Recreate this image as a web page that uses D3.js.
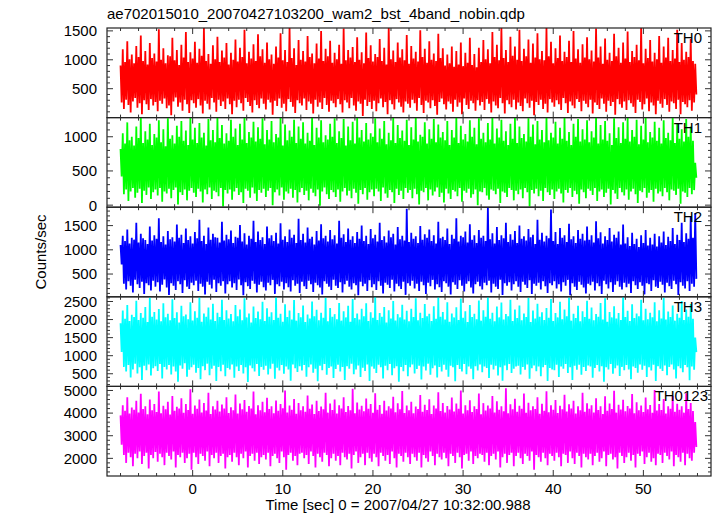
<!DOCTYPE html>
<html><head><meta charset="utf-8">
<script src="https://cdn.jsdelivr.net/npm/d3@7/dist/d3.min.js"></script>
<style>
html,body{margin:0;padding:0;background:#fff;}
svg{display:block;}
text{font-family:"Liberation Sans",Arial,Helvetica,sans-serif;fill:#000;}
</style></head>
<body>
<script>
// ---------- data ----------
const titleText = "ae702015010_20070427103200_wam2_bst_4band_nobin.qdp";
const xLabelText = "Time [sec] 0 = 2007/04/27 10:32:00.988";
const yLabelText = "Counts/sec";
const panelNames = ["TH0", "TH1", "TH2", "TH3", "TH0123"];
const tStart = -8;      // sec, first bin
const binSize = 0.25;   // sec (per-bin max / min of the light curve)
const xDomain = [-9.5, 57.5];
const xMajorTicks = [0, 10, 20, 30, 40, 50];
const yDomains = [[0, 1550], [-30, 1280], [30, 1880], [150, 2630], [1220, 5180]];
const yTickLabels = [[500, 1000, 1500], [0, 500, 1000], [500, 1000, 1500], [500, 1000, 1500, 2000, 2500], [2000, 3000, 4000, 5000]];
const yMinorSteps = [100, 100, 100, 100, 200];

const th0Max = [
900,1180,960,1320,1010,1090,940,1240,1050,1420,980,1150,920,1290,1030,1110,
970,1530,1000,1200,940,1080,1060,1380,990,1170,910,1260,1040,1480,960,1130,
1020,1310,950,1190,1070,1550,980,1100,930,1250,1010,1400,960,1160,1040,1290,
920,1120,1000,1350,970,1210,1050,1520,940,1140,1020,1270,980,1440,1060,1180,
950,1300,1010,1090,930,1230,1040,1460,990,1170,960,1550,1030,1200,910,1340,
1000,1150,970,1410,1050,1110,940,1280,1020,1500,980,1190,1060,1330,950,1120,
1010,1260,930,1540,990,1170,1040,1220,960,1390,1000,1130,940,1470,1030,1250,
970,1100,1050,1360,980,1210,920,1550,1010,1160,960,1300,1040,1180,990,1430,
930,1240,1020,1140,970,1510,1050,1190,950,1320,1000,1110,980,1450,1030,1200,
900,1090,940,1230,880,1150,920,1300,890,1120,950,1380,910,1100,870,1210,
960,1340,1010,1180,940,1480,1050,1260,990,1550,1030,1170,960,1400,1070,1230,
1000,1520,980,1190,1060,1350,950,1280,1040,1460,1010,1150,990,1550,1060,1310,
940,1200,1030,1420,980,1140,1050,1330,960,1500,1020,1180,950,1270,1040,1390,
1010,1160,970,1540,1040,1230,930,1370,1000,1120,980,1450,1060,1210,950,1300,
1020,1490,960,1150,1050,1260,990,1550,940,1190,1030,1340,970,1120,1010,1410,
950,1230,1040,1380,980,1170,1020,1520,960,1290,1000,1140,1050,1360,980,930];
const th0Min = [
260,150,310,220,90,280,340,170,250,60,300,230,130,320,210,270,
110,290,240,330,160,210,40,280,350,190,260,120,310,230,80,300,
250,170,320,210,70,290,240,140,340,260,100,310,200,280,150,330,
230,60,290,180,310,250,120,340,270,200,90,300,220,160,330,240,
140,310,260,50,290,200,330,170,240,110,320,270,190,80,300,250,
210,330,130,280,240,70,310,190,260,150,340,220,100,290,250,180,
320,230,90,300,260,160,340,210,120,280,240,30,310,200,270,150,
290,110,250,330,180,270,60,300,230,140,320,260,190,90,280,240,
170,310,250,120,340,220,80,290,260,160,300,200,50,270,330,230,
140,280,240,100,310,190,260,60,330,220,150,290,250,120,300,210,
270,130,320,240,90,280,210,160,340,250,70,300,230,180,310,140,
260,200,110,330,250,170,290,40,270,220,310,150,240,90,320,260,
190,300,230,130,340,250,80,280,210,160,320,270,110,290,240,180,
310,70,260,220,150,330,240,100,290,200,270,50,320,230,170,280,
130,300,250,190,80,310,270,140,230,330,110,260,210,60,290,240,
170,320,220,100,280,250,150,310,60,270,230,180,300,120,260,400];

const th1Max = [
820,1050,900,1210,950,1000,870,1150,980,1280,910,1080,960,1190,880,1040,
990,1240,920,1110,860,1270,970,1020,900,1160,1000,1230,940,1090,880,1280,
960,1130,910,1200,990,1060,870,1260,950,1100,920,1280,980,1170,900,1050,
940,1250,1000,1120,880,1190,960,1280,910,1070,990,1220,930,1140,970,1270,
890,1100,960,1230,920,1040,990,1280,870,1180,950,1090,1000,1250,910,1150,
970,1210,900,1060,940,1280,880,1130,990,1240,920,1020,960,1190,1000,1270,
910,1080,980,1260,870,1150,950,1220,900,1280,990,1100,930,1200,960,1050,
1000,1270,920,1120,970,1230,890,1060,950,1280,910,1170,980,1090,940,1250,
880,1140,960,1280,930,1030,1000,1210,900,1110,970,1260,920,1180,990,1070,
950,1230,880,1100,990,1280,910,1160,960,1040,930,1240,1000,1130,890,1270,
970,1060,920,1200,960,1280,900,1120,990,1250,940,1080,880,1190,970,1280,
910,1150,980,1040,930,1270,1000,1180,890,1230,960,1100,920,1280,950,1060,
990,1220,900,1130,970,1280,940,1070,880,1190,1000,1260,930,1110,960,1240,
920,1080,990,1280,900,1170,960,1230,940,1050,880,1270,980,1140,910,1210,
970,1280,930,1100,1000,1250,890,1160,960,1280,920,1070,990,1220,940,1130,
900,1240,980,1060,950,1280,910,1190,970,1110,930,1260,1000,1150,940,620];
const th1Min = [
420,160,230,60,200,250,110,180,240,30,210,150,260,90,190,230,
140,250,50,200,170,240,100,220,260,10,190,150,230,70,210,250,
180,120,240,200,40,230,160,260,90,210,190,130,250,-20,220,170,
230,80,200,250,150,190,30,240,210,110,260,170,60,220,180,240,
120,210,250,0,190,230,140,260,80,200,170,240,110,220,40,190,
250,150,210,70,240,180,130,230,-10,200,260,160,90,220,190,120,
230,50,200,250,140,210,100,240,180,20,220,160,250,80,190,230,
130,240,200,60,260,170,110,220,190,30,240,150,210,90,250,180,
220,100,240,160,10,210,190,250,70,230,140,200,260,120,180,40,
240,170,90,220,200,130,250,50,210,180,240,110,160,230,0,200,
190,250,140,80,230,210,160,240,30,200,180,120,250,220,70,210,
160,230,100,250,190,-20,220,170,240,130,210,60,250,190,150,230,
90,200,240,170,40,220,180,250,120,210,160,20,230,190,100,240,
210,150,250,60,200,230,120,180,240,10,220,170,90,250,190,140,
230,80,200,240,160,30,210,190,250,110,180,220,50,240,170,200,
130,250,190,70,230,210,150,240,20,200,180,120,250,160,220,400];

const th2Max = [
1100,1290,1180,1420,1130,1250,1210,1560,1150,1330,1240,1200,1120,1480,1190,1300,
1230,1650,1160,1280,1110,1390,1220,1260,1170,1520,1250,1310,1140,1440,1200,1280,
1130,1370,1240,1620,1180,1290,1120,1460,1210,1330,1260,1250,1150,1580,1190,1310,
1220,1400,1140,1270,1250,1510,1170,1340,1110,1290,1230,1600,1160,1380,1200,1260,
1120,1480,1240,1300,1180,1350,1130,1550,1210,1280,1160,1420,1250,1310,1140,1640,
1200,1330,1150,1460,1230,1270,1110,1390,1190,1530,1240,1290,1170,1410,1220,1300,
1130,1600,1250,1320,1160,1440,1210,1280,1140,1370,1230,1500,1180,1290,1120,1430,
1240,1310,1170,1560,1200,1280,1150,1400,1260,1330,1110,1470,1220,1290,1190,1850,
1160,1350,1230,1280,1140,1490,1210,1320,1250,1420,1180,1300,1130,1580,1240,1270,
1200,1440,1120,1310,1230,1650,1170,1290,1260,1380,1150,1530,1210,1300,1140,1410,
1250,1290,1180,1880,1220,1340,1130,1470,1200,1300,1240,1560,1160,1320,1210,1390,
1140,1500,1230,1280,1190,1430,1260,1310,1120,1620,1210,1350,1170,1290,1240,1830,
1180,1370,1120,1450,1250,1300,1160,1540,1220,1280,1140,1410,1230,1330,1190,1480,
1210,1300,1150,1590,1240,1360,1130,1280,1200,1450,1170,1310,1250,1380,1110,1520,
1130,1260,1080,1350,1120,1230,1060,1300,1140,1410,1090,1250,1110,1330,1070,1280,
1150,1380,1100,1270,1180,1450,1120,1310,1200,1560,1160,1340,1230,1700,1250,1760];
const th2Min = [
700,300,180,350,260,120,380,290,210,340,90,310,270,160,360,240,
330,140,280,390,220,70,310,260,170,350,290,110,370,240,190,320,
270,360,150,300,240,80,340,280,200,380,130,310,260,350,100,290,
350,220,310,170,390,270,60,330,250,190,360,300,120,280,340,230,
160,320,270,380,90,290,250,340,180,310,230,140,370,260,300,110,
340,250,190,360,290,130,320,270,220,80,350,300,240,170,380,260,
210,330,120,290,360,240,180,310,270,60,340,250,300,150,370,230,
290,170,350,260,100,320,280,210,380,140,300,250,190,340,70,310,
260,360,200,300,150,340,270,90,320,250,380,180,290,230,130,350,
310,240,80,330,280,190,370,260,140,300,350,220,100,290,340,250,
180,320,270,360,120,300,240,190,380,70,310,260,330,160,290,350,
240,130,340,280,210,370,90,300,260,320,180,350,250,110,310,270,
350,200,290,140,330,260,380,60,310,240,170,340,280,220,100,300,
270,340,160,310,250,90,360,290,200,330,130,280,350,240,180,320,
230,300,110,350,270,190,330,260,80,310,290,150,370,240,210,340,
280,120,320,250,190,360,290,70,330,260,200,350,150,300,240,400];

const th3Max = [
1900,2250,2020,2400,1960,2130,2070,2520,1990,2180,2050,2350,1930,2600,2080,2210,
2000,2290,1950,2450,2060,2160,1980,2560,2040,2200,1920,2380,2090,2140,2010,2480,
1970,2230,2050,2610,1940,2170,2080,2330,2000,2440,1960,2190,2070,2550,1990,2260,
2030,2150,1950,2400,2090,2280,1980,2590,2060,2170,1920,2360,2040,2220,2010,2490,
1960,2310,2080,2200,1990,2620,2050,2160,1940,2420,2070,2250,2000,2540,1970,2180,
2060,2390,1930,2140,2030,2500,2090,2270,1980,2190,2050,2600,1950,2320,2080,2150,
2010,2460,1970,2230,2060,2380,1940,2570,2040,2170,2000,2300,2090,2450,1960,2200,
2050,2630,1990,2180,2080,2350,1920,2260,2030,2510,1970,2150,2060,2410,2000,2240,
1950,2300,2070,2590,1980,2190,2040,2430,2090,2160,1960,2370,2020,2620,2080,2210,
2000,2480,1940,2170,2060,2340,1990,2580,2050,2230,1930,2400,2070,2160,2010,2530,
1970,2260,2080,2620,2020,2190,1950,2360,2060,2470,2000,2150,2090,2550,1960,2280,
2040,2390,1980,2170,2070,2600,1930,2250,2030,2440,2080,2200,1990,2320,2050,2570,
1960,2180,2060,2490,2010,2280,2090,2610,1970,2160,2040,2380,1950,2230,2070,2520,
2020,2330,1980,2150,2080,2460,2000,2590,1940,2210,2060,2370,2030,2180,1990,2620,
2070,2240,1960,2420,2040,2170,2090,2550,1980,2300,2010,2190,2060,2480,1950,2260,
2030,2600,2000,2220,2070,2390,1970,2160,2050,2510,1990,2280,2080,2430,2020,1500];
const th3Min = [
1100,690,560,740,400,620,780,510,680,330,720,600,760,450,650,710,
580,770,370,690,620,740,480,700,560,280,730,640,790,420,610,680,
750,530,660,350,710,600,780,460,640,720,300,690,570,750,430,660,
620,760,390,700,580,740,510,680,270,730,650,560,770,440,690,610,
720,480,640,780,360,670,590,740,500,700,620,310,760,650,550,710,
590,740,420,680,760,530,640,290,720,600,770,470,660,700,380,630,
750,560,690,330,710,640,780,490,620,730,410,670,580,760,300,700,
640,520,750,680,370,720,600,770,460,650,710,280,690,570,740,430,
680,760,510,630,720,340,700,590,780,470,650,730,400,690,560,750,
610,420,720,680,290,740,630,560,770,490,700,640,350,710,590,760,
540,700,660,380,750,620,720,450,680,310,730,600,770,520,640,700,
720,480,690,610,760,360,650,730,570,700,430,680,740,300,660,620,
600,750,410,700,640,770,520,680,330,720,610,750,470,690,580,730,
700,390,660,740,560,710,280,680,620,770,500,650,730,440,690,600,
740,620,350,700,660,530,760,610,720,410,680,590,750,300,710,640,
580,730,460,690,760,620,370,710,650,540,740,680,320,700,610,1100];

const th0123Max = [
3900,4350,4100,4700,3980,4250,4150,4550,4020,4850,4180,4300,3950,4600,4120,4400,
4050,4950,3990,4320,4170,4500,3940,4750,4100,4280,4200,4650,4010,4400,4140,5050,
3970,4330,4190,4600,4030,4450,4110,4900,3960,4300,4160,4550,4070,4380,4200,4700,
4000,4260,4130,4820,3980,4420,4170,4580,4060,4310,4200,4950,3950,4350,4120,4500,
4040,4680,4180,4300,3990,4560,4100,4400,4210,5000,4030,4330,4150,4620,3970,4450,
4120,4300,4060,4780,4190,4380,3960,4540,4090,4290,4170,4900,4020,4420,4140,4600,
3980,4350,4200,4700,4050,4310,4130,5080,3990,4470,4160,4320,4080,4640,4190,4400,
4010,4880,4150,4360,3970,4550,4110,4300,4200,4720,4040,4430,4170,4980,4000,4330,
4130,4500,3990,4290,4180,4800,4060,4370,4140,4610,3960,4330,4200,4920,4090,4450,
4020,4310,4160,4690,4070,4420,4190,5000,3980,4350,4120,4570,4050,4300,4180,4860,
3950,4440,4110,4330,4200,4760,4030,4520,4150,4300,4080,5100,3990,4390,4170,4630,
4060,4320,4190,4870,4010,4460,4130,4300,4180,4700,3970,4410,4100,4960,4040,4350,
4150,4580,4000,4320,4170,4810,4070,4390,4200,4540,3980,4300,4120,4900,4060,4430,
4190,4350,4030,4660,4140,4300,3960,4740,4100,4420,4180,4990,4020,4370,4160,4590,
4080,4310,4200,4840,3990,4480,4130,4330,4050,4690,4170,4360,4010,5020,4110,4400,
4140,4620,3980,4300,4190,4770,4060,4410,4150,4300,4020,4880,4180,4450,4090,3600];
const th0123Min = [
2600,2150,1800,2250,2050,1650,2200,2000,2300,1750,2100,2250,1550,2150,2000,2280,
1850,2200,2050,1700,2250,2100,1950,2300,1600,2150,2050,2250,1800,2000,2200,1500,
2250,2050,1750,2200,2100,1900,2300,1650,2150,2000,2250,1800,2100,2200,1550,2050,
2150,1850,2250,2050,1700,2200,2000,2300,1600,2100,2200,1900,2250,1750,2050,2150,
1950,2250,1650,2100,2200,2000,1800,2300,2050,1500,2150,2250,1900,2100,1700,2200,
2250,2000,2150,1750,2300,2100,1600,2200,2050,1850,2250,2150,1650,2000,2200,1900,
2100,1700,2250,2050,1950,2200,1550,2150,2300,1800,2050,2200,1700,2250,2000,1850,
2200,2050,1650,2250,2100,1900,2150,1750,2300,2000,1600,2200,2100,1850,2250,2050,
1750,2200,2050,1900,2250,1600,2150,2000,1850,2300,2100,1700,2200,2050,1950,2250,
2000,1650,2200,2100,1800,2250,2050,1550,2150,2200,1900,2300,1750,2100,2000,2200,
2150,1850,2250,1700,2100,2200,1950,2300,1600,2050,2200,1800,2150,2250,1650,2100,
2250,2000,1750,2200,2100,1900,2300,1500,2150,2050,1850,2250,2000,1700,2200,2100,
1900,2250,2050,1650,2200,2150,1800,2300,2000,1750,2250,2100,1600,2200,2050,1950,
2200,1700,2100,2250,1850,2000,2300,1650,2150,2200,1950,2050,1550,2250,2100,1800,
2050,2250,1900,2150,1600,2200,2100,2300,1750,2050,2250,1850,2000,1700,2200,2150,
1800,2250,2100,1950,2300,1650,2150,2050,1850,2250,1700,2200,2000,1900,2250,2500];

const seriesMax = [th0Max, th1Max, th2Max, th3Max, th0123Max];
const seriesMin = [th0Min, th1Min, th2Min, th3Min, th0123Min];

// ---------- layout ----------
const W = 717, H = 516;
const plotL = 107, plotR = 711, plotT = 28, plotB = 476;
const colors = ["#ff0000", "#00ff00", "#0000ff", "#00ffff", "#ff00ff"];
const labelEnd = [702, 702, 702, 702, 708];
const panelH = (plotB - plotT) / panelNames.length;

const svg = d3.select("body").append("svg").attr("width", W).attr("height", H);
const x = d3.scaleLinear().domain(xDomain).range([plotL, plotR]);
const xMinor = d3.range(-8, 57, 2).filter(v => v % 10 !== 0);

svg.append("defs").selectAll("clipPath").data(panelNames).join("clipPath")
  .attr("id", (d, i) => "clip" + i)
  .append("rect").attr("x", plotL).attr("width", plotR - plotL)
  .attr("y", (d, i) => plotT + i * panelH).attr("height", panelH);

panelNames.forEach((name, i) => {
  const top = plotT + i * panelH, bot = top + panelH;
  const y = d3.scaleLinear().domain(yDomains[i]).range([bot, top]);
  const g = svg.append("g");
  // min/max decimated light curve: within each bin go to the max, then the min
  const pts = [];
  seriesMax[i].forEach((hi, k) => {
    const t = tStart + k * binSize;
    pts.push([t, hi]);
    pts.push([t + binSize / 2, seriesMin[i][k]]);
  });
  const line = d3.line().x(d => x(d[0])).y(d => y(d[1]));
  g.append("path").datum(pts)
    .attr("clip-path", "url(#clip" + i + ")")
    .attr("fill", "none").attr("stroke", colors[i]).attr("stroke-width", 1.8)
    .attr("d", line);

  g.append("rect").attr("x", plotL).attr("y", top).attr("width", plotR - plotL).attr("height", panelH)
    .attr("fill", "none").attr("stroke", "#222").attr("stroke-width", 1.2);

  const tk = g.append("g").attr("stroke", "#333").attr("stroke-width", 1);
  xMajorTicks.forEach(v => {
    tk.append("line").attr("x1", x(v)).attr("x2", x(v)).attr("y1", top).attr("y2", top + 6);
    tk.append("line").attr("x1", x(v)).attr("x2", x(v)).attr("y1", bot).attr("y2", bot - 6);
  });
  xMinor.forEach(v => {
    tk.append("line").attr("x1", x(v)).attr("x2", x(v)).attr("y1", top).attr("y2", top + 3);
    tk.append("line").attr("x1", x(v)).attr("x2", x(v)).attr("y1", bot).attr("y2", bot - 3);
  });
  const [y0, y1] = yDomains[i];
  const ms = yMinorSteps[i];
  d3.range(Math.ceil(y0 / ms) * ms, y1 + 1, ms).forEach(v => {
    const major = yTickLabels[i].includes(v);
    const L = major ? 6 : 3;
    tk.append("line").attr("x1", plotL).attr("x2", plotL + L).attr("y1", y(v)).attr("y2", y(v));
    tk.append("line").attr("x1", plotR).attr("x2", plotR - L).attr("y1", y(v)).attr("y2", y(v));
  });
  g.selectAll("text.yl").data(yTickLabels[i]).join("text")
    .attr("class", "yl").attr("x", plotL - 10).attr("y", d => y(d)).attr("dy", "0.36em")
    .attr("text-anchor", "end").attr("font-size", 15).text(d => d);
  g.append("text").attr("x", labelEnd[i]).attr("y", top + 15)
    .attr("text-anchor", "end").attr("font-size", 15).text(name);
});

svg.selectAll("text.xl").data(xMajorTicks).join("text")
  .attr("class", "xl").attr("x", d => x(d)).attr("y", 494)
  .attr("text-anchor", "middle").attr("font-size", 15).text(d => d);

svg.append("text").attr("x", 107).attr("y", 19).attr("font-size", 15).text(titleText);
svg.append("text").attr("x", 398).attr("y", 510).attr("text-anchor", "middle").attr("font-size", 15).text(xLabelText);
svg.append("text").attr("transform", "translate(46,252) rotate(-90)").attr("text-anchor", "middle")
  .attr("font-size", 15).text(yLabelText);
</script>
</body></html>
